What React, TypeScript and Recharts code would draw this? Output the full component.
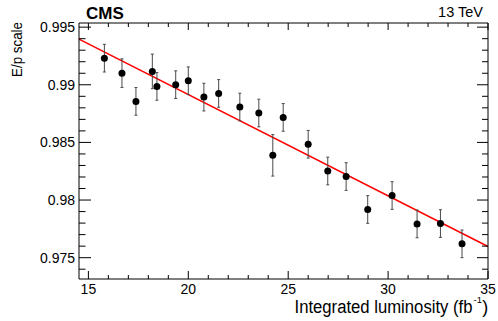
import { ScatterChart, Scatter, XAxis, YAxis, ErrorBar, ReferenceLine } from 'recharts';

// ─── Data ────────────────────────────────────────────────
const lumi = [15.8, 16.68, 17.38, 18.2, 18.43, 19.37, 20.0, 20.78, 21.52, 22.58, 23.53, 24.23, 24.75, 26.0, 26.98, 27.9, 28.98, 30.2, 31.45, 32.62, 33.7];
const epScale = [0.99231, 0.99101, 0.98856, 0.99116, 0.98986, 0.99001, 0.99035, 0.98893, 0.98925, 0.98807, 0.98755, 0.98388, 0.98717, 0.98484, 0.98252, 0.98204, 0.97918, 0.98039, 0.97793, 0.97796, 0.9762];
const epErr = [0.0012, 0.00124, 0.0012, 0.0015, 0.0012, 0.0012, 0.0012, 0.0012, 0.0012, 0.0012, 0.0012, 0.0018, 0.0012, 0.0012, 0.0012, 0.0012, 0.0012, 0.0012, 0.0012, 0.0012, 0.0012];

// linear fit, end points at the frame edges
const fitX = [14.53, 35];
const fitY = [0.99396, 0.97597];

const xDomain = [14.53, 35];
const yDomain = [0.97315, 0.99536];
const xMajorTicks = [15, 20, 25, 30, 35];
const yMajorTicks = [0.975, 0.98, 0.985, 0.99, 0.995];

// minor ticks: every 1 fb-1 and every 0.001
const xTicks: number[] = [];
for (let v = 15; v <= 35; v++) xTicks.push(v);
const yTicks: number[] = [];
for (let m = 974; m <= 995; m++) yTicks.push(m / 1000);

const points = lumi.map((x, i) => ({ x, y: epScale[i], err: epErr[i] }));

const isMajorX = (v: number) => xMajorTicks.some((t) => Math.abs(t - v) < 1e-6);
const isMajorY = (v: number) => yMajorTicks.some((t) => Math.abs(t - v) < 1e-7);
const yLabel = (v: number) => String(yMajorTicks.find((t) => Math.abs(t - v) < 1e-7));

// ─── Inward ROOT-style ticks ─────────────────────────────
function BottomTick({ x, y, payload }: any) {
  const major = isMajorX(payload.value);
  return (
    <g>
      <line x1={x} x2={x} y1={y} y2={y - (major ? 8 : 4)} stroke="#000" />
      {major && (
        <text x={x} y={y + 15} textAnchor="middle" fontSize={14} fill="#000">
          {payload.value}
        </text>
      )}
    </g>
  );
}

function TopTick({ x, y, payload }: any) {
  const major = isMajorX(payload.value);
  return <line x1={x} x2={x} y1={y} y2={y + (major ? 7 : 4)} stroke="#000" />;
}

function LeftTick({ x, y, payload }: any) {
  const major = isMajorY(payload.value);
  return (
    <g>
      <line x1={x} x2={x + (major ? 12 : 6.5)} y1={y} y2={y} stroke="#000" />
      {major && (
        <text x={x - 4} y={y} dy="0.36em" textAnchor="end" fontSize={14} fill="#000">
          {yLabel(payload.value)}
        </text>
      )}
    </g>
  );
}

function RightTick({ x, y, payload }: any) {
  const major = isMajorY(payload.value);
  return <line x1={x} x2={x - (major ? 11 : 6)} y1={y} y2={y} stroke="#000" />;
}

function Dot({ cx, cy }: any) {
  return <circle cx={cx} cy={cy} r={3.5} fill="#000" />;
}

export default function App() {
  return (
    <div
      style={{
        position: 'absolute',
        left: 0,
        top: 0,
        width: 498,
        height: 321,
        background: '#fff',
        fontFamily: '"Liberation Sans", Arial, sans-serif',
      }}
    >
      <ScatterChart width={498} height={321} margin={{ top: 22, right: 9, bottom: 0, left: 0 }}>
        <XAxis
          xAxisId="b"
          type="number"
          dataKey="x"
          domain={xDomain}
          allowDataOverflow
          ticks={xTicks}
          interval={0}
          tickSize={0}
          tickMargin={0}
          tickLine={false}
          tick={<BottomTick />}
          axisLine={{ stroke: '#000' }}
          height={42}
        />
        <XAxis
          xAxisId="t"
          orientation="top"
          type="number"
          dataKey="x"
          domain={xDomain}
          allowDataOverflow
          ticks={xTicks}
          interval={0}
          tickSize={0}
          tickMargin={0}
          tickLine={false}
          tick={<TopTick />}
          axisLine={{ stroke: '#000' }}
          height={1}
        />
        <YAxis
          yAxisId="l"
          type="number"
          dataKey="y"
          domain={yDomain}
          allowDataOverflow
          ticks={yTicks}
          interval={0}
          tickSize={0}
          tickMargin={0}
          tickLine={false}
          tick={<LeftTick />}
          axisLine={{ stroke: '#000' }}
          width={79}
        />
        <YAxis
          yAxisId="r"
          orientation="right"
          type="number"
          dataKey="y"
          domain={yDomain}
          allowDataOverflow
          ticks={yTicks}
          interval={0}
          tickSize={0}
          tickMargin={0}
          tickLine={false}
          tick={<RightTick />}
          axisLine={{ stroke: '#000' }}
          width={1}
        />
        <ReferenceLine
          xAxisId="b"
          yAxisId="l"
          segment={[
            { x: fitX[0], y: fitY[0] },
            { x: fitX[1], y: fitY[1] },
          ]}
          stroke="#ff0000"
          strokeWidth={1.6}
        />
        <Scatter
          xAxisId="b"
          yAxisId="l"
          data={points}
          dataKey="y"
          shape={<Dot />}
          isAnimationActive={false}
        >
          <ErrorBar dataKey="err" direction="y" width={1.5} stroke="#4a4a4a" strokeWidth={1} isAnimationActive={false} />
        </Scatter>
      </ScatterChart>

      {/* Titles */}
      <svg
        width={498}
        height={321}
        style={{ position: 'absolute', left: 0, top: 0, pointerEvents: 'none' }}
      >
        <text x={86} y={19} fontSize={17} fontWeight="bold" fill="#000">
          CMS
        </text>
        <text x={483} y={17.3} fontSize={14.5} textAnchor="end" fill="#000">
          13 TeV
        </text>
        <text
          transform="translate(21.8,77) rotate(-90)"
          fontSize={15.5}
          textLength={55}
          lengthAdjust="spacingAndGlyphs"
          fill="#000"
        >
          E/p scale
        </text>
        {/* x title, with the -1 exponent as its own small text */}
        <text
          x={294.5}
          y={313}
          fontSize={18}
          textLength={178}
          lengthAdjust="spacingAndGlyphs"
          fill="#000"
        >
          Integrated luminosity (fb
        </text>
        <text x={473.5} y={303} fontSize={9.5} fill="#000">
          -1
        </text>
        <text x={482.3} y={313} fontSize={18} fill="#000">
          )
        </text>
      </svg>
    </div>
  );
}
